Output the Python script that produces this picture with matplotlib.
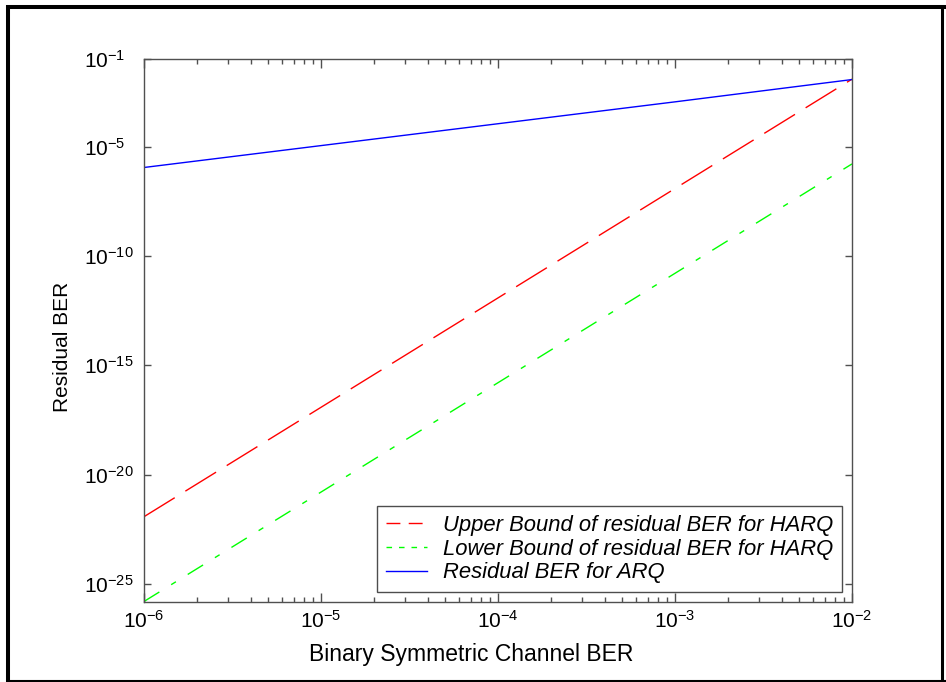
import numpy as np
import matplotlib
matplotlib.use("Agg")
import matplotlib.pyplot as plt
from matplotlib.lines import Line2D

plt.rcParams['font.family'] = ['Liberation Sans', 'DejaVu Sans']
plt.rcParams['mathtext.fontset'] = 'custom'
plt.rcParams['mathtext.rm'] = 'Liberation Sans'
plt.rcParams['mathtext.it'] = 'Liberation Sans:italic'
plt.rcParams['mathtext.bf'] = 'Liberation Sans:bold'

# ---- data ----
channel_ber = [1e-6, 1e-5, 1e-4, 1e-3, 1e-2]
upper_harq = [1.2e-22, 1.2e-17, 1.2e-12, 1.2e-7, 1.2e-2]
lower_harq = [1.6e-26, 1.6e-21, 1.6e-16, 1.6e-11, 1.6e-6]
residual_arq = [1.1e-6, 1.1e-5, 1.1e-4, 1.1e-3, 1.15e-2]

labels = ["Upper Bound of residual BER for HARQ",
          "Lower Bound of residual BER for HARQ",
          "Residual BER for ARQ"]
xtick_vals = [1e-6, 1e-5, 1e-4, 1e-3, 1e-2]
xtick_labels = [r'$\mathregular{10^{-6}}$', r'$\mathregular{10^{-5}}$', r'$\mathregular{10^{-4}}$',
                r'$\mathregular{10^{-3}}$', r'$\mathregular{10^{-2}}$']
ytick_vals = [1e-1, 1e-5, 1e-10, 1e-15, 1e-20, 1e-25]
ytick_labels = [r'$\mathregular{10^{-1}}$', r'$\mathregular{10^{-5}}$', r'$\mathregular{10^{-10}}$',
                r'$\mathregular{10^{-15}}$', r'$\mathregular{10^{-20}}$', r'$\mathregular{10^{-25}}$']

W, H = 946, 682
fig = plt.figure(figsize=(W / 100, H / 100), dpi=100)
ax = fig.add_axes([144 / W, 1 - 602 / H, (852 - 144) / W, (602 - 59) / H])

ax.plot(channel_ber, upper_harq, color='#ff0000', lw=1.0, dashes=(26, 9), label=labels[0])
ax.plot(channel_ber, lower_harq, color='#00ff00', lw=1.0, dashes=(13, 10, 4, 10), label=labels[1])
ax.plot(channel_ber, residual_arq, color='#0000ff', lw=1.0, label=labels[2])

ax.set_xscale('log')
ax.set_yscale('log')
ax.set_xlim(1e-6, 1e-2)
ax.set_ylim(10 ** -25.82, 1e-1)

ax.set_xticks(xtick_vals)
ax.set_xticklabels(xtick_labels, fontsize=15)
ax.set_yticks(ytick_vals)
ax.set_yticklabels(ytick_labels, fontsize=15)
ax.yaxis.set_minor_locator(matplotlib.ticker.NullLocator())
for lab in ax.get_yticklabels():
    lab.set_horizontalalignment('left')

spine_col = '#505050'
for s in ax.spines.values():
    s.set_color(spine_col)
    s.set_linewidth(1.0)
ax.tick_params(which='both', direction='in', top=True, right=True, color=spine_col, width=1.0)
ax.tick_params(axis='x', which='major', length=6.5, pad=6)
ax.tick_params(axis='x', which='minor', length=3.6)
ax.tick_params(axis='y', which='major', length=5, pad=43)

fig.text(471 / W, 1 - 655 / H, "Binary Symmetric Channel BER", fontsize=16.5,
         ha='center', va='center')
fig.text(62 / W, 1 - 347 / H, "Residual BER", fontsize=15, rotation=90,
         ha='center', va='center')

handles = [Line2D([], [], color='#ff0000', lw=1.0, dashes=(10, 6)),
           Line2D([], [], color='#00ff00', lw=1.0, dashes=(4, 5)),
           Line2D([], [], color='#0000ff', lw=1.0)]
leg = ax.legend(handles, labels, loc='lower right', bbox_to_anchor=(0.986, 0.018),
                borderaxespad=0, fancybox=False, frameon=True, edgecolor='#202020',
                prop={'style': 'italic', 'size': 15.8}, handlelength=1.85,
                handletextpad=0.75, labelspacing=0.13, borderpad=0.4)
leg.get_frame().set_linewidth(1.0)

# outer black border
def fline(x0, y0, x1, y1, lw):
    fig.add_artist(Line2D([x0 / W, x1 / W], [1 - y0 / H, 1 - y1 / H],
                          transform=fig.transFigure, color='black', lw=lw,
                          solid_capstyle='butt'))

fline(8, 5, 8, 682, 2.9)
fline(6, 7, 946, 7, 2.9)
fline(6, 681, 946, 681, 1.5)
fline(942, 5, 942, 682, 2.2)

fig.savefig("out.png", dpi=100, facecolor='white')
